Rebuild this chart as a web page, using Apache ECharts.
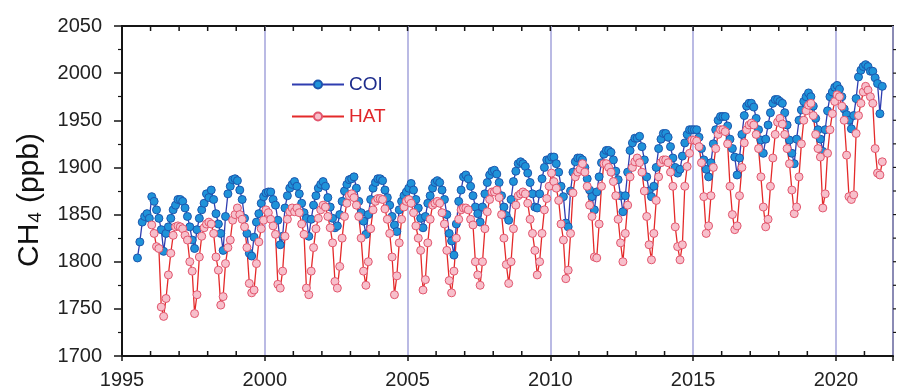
<!DOCTYPE html>
<html>
<head>
<meta charset="utf-8">
<script src="https://cdn.jsdelivr.net/npm/echarts@6/dist/echarts.min.js"></script>
<style>
  html, body { margin: 0; padding: 0; background: #fff; }
  #chart { width: 897px; height: 392px; }
  #err { position: absolute; left: 430px; top: 32px; font: 11px monospace; color: #c00; white-space: pre; }
</style>
</head>
<body>
<div id="chart"></div>
<div id="err"></div>
<script>
window.onerror = function (msg) { document.getElementById('err').textContent += msg + '\n'; };

// Monthly mean CH4 mole fractions (ppb), one row per calendar year.
const coiStart = [1995, 7];   // first month of the COI record (year, month)
const coiValues = [
  1804, 1821, 1842, 1848, 1851, 1846,                                   // 1995 Jul-Dec
  1869, 1864, 1855, 1846, 1834, 1811, 1830, 1837, 1846, 1855, 1860, 1866, // 1996
  1866, 1864, 1857, 1848, 1837, 1823, 1814, 1834, 1846, 1855, 1862, 1872, // 1997
  1868, 1876, 1866, 1851, 1840, 1830, 1812, 1848, 1872, 1880, 1887, 1888, // 1998
  1886, 1876, 1866, 1846, 1830, 1809, 1806, 1826, 1842, 1851, 1862, 1869, // 1999
  1873, 1874, 1874, 1866, 1860, 1844, 1818, 1827, 1857, 1870, 1878, 1882, // 2000
  1885, 1880, 1872, 1862, 1852, 1846, 1827, 1845, 1860, 1870, 1878, 1882, // 2001
  1885, 1880, 1868, 1858, 1846, 1836, 1838, 1850, 1864, 1875, 1882, 1887, // 2002
  1888, 1890, 1878, 1864, 1852, 1843, 1829, 1850, 1866, 1878, 1884, 1888, // 2003
  1888, 1886, 1876, 1868, 1860, 1848, 1839, 1832, 1855, 1864, 1870, 1874, // 2004
  1878, 1883, 1876, 1866, 1857, 1846, 1836, 1848, 1862, 1870, 1878, 1884, // 2005
  1886, 1884, 1876, 1866, 1850, 1830, 1822, 1807, 1840, 1864, 1876, 1890, // 2006
  1892, 1888, 1880, 1870, 1858, 1851, 1842, 1858, 1872, 1884, 1892, 1896, // 2007
  1897, 1893, 1884, 1870, 1858, 1849, 1844, 1866, 1885, 1896, 1904, 1906, // 2008
  1904, 1901, 1894, 1884, 1872, 1858, 1857, 1872, 1888, 1900, 1908, 1908, // 2009
  1911, 1911, 1904, 1895, 1880, 1869, 1841, 1837, 1875, 1895, 1906, 1910, // 2010
  1910, 1908, 1900, 1888, 1876, 1869, 1855, 1874, 1890, 1905, 1914, 1918, // 2011
  1918, 1916, 1908, 1896, 1887, 1870, 1853, 1870, 1895, 1918, 1926, 1931, // 2012
  1931, 1933, 1922, 1908, 1890, 1875, 1869, 1880, 1900, 1920, 1930, 1936, // 2013
  1936, 1932, 1922, 1910, 1900, 1894, 1898, 1912, 1926, 1935, 1940, 1940, // 2014
  1940, 1940, 1932, 1920, 1908, 1898, 1890, 1905, 1925, 1940, 1950, 1954, // 2015
  1954, 1954, 1944, 1930, 1920, 1911, 1892, 1910, 1935, 1955, 1965, 1968, // 2016
  1968, 1964, 1952, 1940, 1929, 1915, 1930, 1945, 1958, 1968, 1972, 1972, // 2017
  1970, 1968, 1958, 1945, 1929, 1915, 1904, 1930, 1950, 1961, 1970, 1975, // 2018
  1979, 1975, 1965, 1952, 1940, 1930, 1917, 1940, 1960, 1975, 1980, 1985, // 2019
  1987, 1983, 1975, 1962, 1956, 1950, 1941, 1955, 1973, 1996, 2003, 2007, // 2020
  2009, 2007, 2002, 2002, 1995, 1989, 1957, 1986                          // 2021 Jan-Aug
];

const hatStart = [1996, 1];   // first month of the HAT record
const hatValues = [
  1839, 1830, 1816, 1814, 1752, 1742, 1761, 1786, 1809, 1828, 1837, 1838, // 1996
  1837, 1835, 1828, 1823, 1800, 1790, 1745, 1765, 1805, 1827, 1836, 1840, // 1997
  1842, 1840, 1830, 1805, 1791, 1754, 1763, 1798, 1815, 1823, 1844, 1850, // 1998
  1857, 1850, 1845, 1837, 1815, 1777, 1767, 1770, 1798, 1821, 1835, 1844, // 1999
  1855, 1852, 1845, 1838, 1829, 1776, 1772, 1790, 1827, 1845, 1853, 1857, // 2000
  1853, 1857, 1852, 1840, 1829, 1772, 1765, 1790, 1815, 1835, 1846, 1855, // 2001
  1860, 1858, 1848, 1836, 1820, 1779, 1772, 1795, 1825, 1848, 1862, 1870, // 2002
  1872, 1868, 1860, 1848, 1825, 1790, 1775, 1800, 1835, 1855, 1864, 1867, // 2003
  1867, 1866, 1856, 1845, 1830, 1805, 1765, 1785, 1820, 1845, 1858, 1864, // 2004
  1866, 1862, 1852, 1838, 1825, 1812, 1770, 1781, 1820, 1845, 1860, 1862, // 2005
  1864, 1862, 1852, 1840, 1812, 1780, 1767, 1790, 1825, 1845, 1855, 1857, // 2006
  1857, 1855, 1845, 1839, 1800, 1786, 1775, 1800, 1835, 1853, 1866, 1874, // 2007
  1874, 1876, 1868, 1850, 1825, 1797, 1777, 1800, 1835, 1860, 1870, 1872, // 2008
  1874, 1872, 1862, 1845, 1830, 1812, 1786, 1800, 1830, 1855, 1867, 1880, // 2009
  1894, 1885, 1878, 1865, 1840, 1823, 1782, 1791, 1830, 1873, 1890, 1895, // 2010
  1898, 1904, 1895, 1880, 1860, 1848, 1805, 1804, 1840, 1880, 1904, 1904, // 2011
  1900, 1895, 1885, 1870, 1845, 1820, 1800, 1830, 1860, 1890, 1900, 1906, // 2012
  1910, 1905, 1895, 1875, 1848, 1818, 1802, 1830, 1865, 1890, 1905, 1908, // 2013
  1908, 1905, 1895, 1880, 1837, 1816, 1802, 1818, 1880, 1901, 1915, 1929, // 2014
  1929, 1928, 1922, 1905, 1869, 1830, 1838, 1870, 1900, 1920, 1935, 1940, // 2015
  1940, 1938, 1925, 1880, 1850, 1834, 1838, 1870, 1900, 1926, 1940, 1945, // 2016
  1947, 1945, 1935, 1920, 1890, 1858, 1837, 1845, 1880, 1910, 1935, 1948, // 2017
  1952, 1946, 1935, 1920, 1904, 1876, 1851, 1858, 1890, 1925, 1950, 1960, // 2018
  1966, 1968, 1955, 1935, 1920, 1911, 1857, 1872, 1915, 1940, 1957, 1970, // 2019
  1977, 1975, 1965, 1950, 1913, 1869, 1866, 1871, 1936, 1955, 1968, 1980, // 2020
  1986, 1982, 1975, 1968, 1920, 1894, 1892, 1906                          // 2021 Jan-Aug
];

const seriesNames = ['COI', 'HAT'];
const yearRange = [1995, 2022];
const ppbRange = [1700, 2050];
const yTitle = 'CH\u2084 (ppb)';

// Place each monthly value at the middle of its month, in decimal years.
function monthly(start, values) {
  return values.map((v, i) => [start[0] + (start[1] - 1 + i + 0.5) / 12, v]);
}

const FONT = "'Liberation Sans', Arial, 'DejaVu Sans', sans-serif";
const INK = '#151515';

const chart = echarts.init(document.getElementById('chart'), null, { renderer: 'canvas' });

chart.setOption({
  animation: false,
  backgroundColor: '#ffffff',
  textStyle: { fontFamily: FONT },
  grid: { left: 122, right: 4, top: 26, bottom: 36, show: true, borderColor: INK, borderWidth: 2, backgroundColor: 'transparent' },
  legend: {
    orient: 'vertical',
    left: 286,
    top: 70,
    itemWidth: 52,
    itemHeight: 10,
    itemGap: 13,
    textStyle: { fontSize: 19, fontFamily: FONT },
    data: [
      { name: seriesNames[0], textStyle: { color: '#1d2c8c' } },
      { name: seriesNames[1], textStyle: { color: '#e0262a' } }
    ]
  },
  xAxis: {
    type: 'value', position: 'bottom',
    min: yearRange[0], max: yearRange[1], interval: 5,
    axisLine: { onZero: false, lineStyle: { color: INK, width: 2 } },
    axisTick: { show: true, length: 5, lineStyle: { color: INK, width: 1.5 } },
    axisLabel: {
      fontSize: 20, color: '#222', margin: 14, fontFamily: FONT,
      formatter: v => (v % 5 === 0 ? String(v) : '')
    },
    splitLine: { show: true, lineStyle: { color: '#a9a9de', width: 1.6 } }
  },
  yAxis: {
    type: 'value', position: 'left',
    min: ppbRange[0], max: ppbRange[1], interval: 50,
    axisLine: { show: true, onZero: false, lineStyle: { color: INK, width: 2 } },
    axisTick: { show: true, length: 8, lineStyle: { color: INK, width: 1.5 } },
    minorTick: { show: true, splitNumber: 2, length: 4, lineStyle: { color: INK, width: 1.2 } },
    axisLabel: { fontSize: 20, color: '#222', margin: 20, fontFamily: FONT, formatter: v => String(v) },
    splitLine: { show: false },
    name: yTitle,
    nameLocation: 'middle',
    nameRotate: 90,
    nameGap: 77,
    nameTextStyle: { fontSize: 30, fontFamily: FONT, color: '#111', padding: [0, 18, 0, 0] }
  },
  series: [
    {
      name: seriesNames[0],
      type: 'line',
      data: monthly(coiStart, coiValues),
      symbol: 'circle',
      symbolSize: 8,
      lineStyle: { color: '#2f3db0', width: 1.3 },
      itemStyle: { color: '#1f93d9', borderColor: '#1d56ad', borderWidth: 1 }
    },
    {
      name: seriesNames[1],
      type: 'line',
      data: monthly(hatStart, hatValues),
      symbol: 'circle',
      symbolSize: 8,
      lineStyle: { color: '#e42a2a', width: 1.3 },
      itemStyle: { color: '#f7bfcb', borderColor: '#e2566e', borderWidth: 1 }
    }
  ]
});

// Small ticks on the frame: inward yearly ticks along top and bottom,
// outward 25-ppb ticks on the right, placed through the chart's scales.
(function drawFrameTicks() {
  const px = (x, y) => chart.convertToPixel({ gridIndex: 0 }, [x, y]);
  const lo = px(yearRange[0], ppbRange[0]);
  const hi = px(yearRange[1], ppbRange[1]);
  const els = [];
  const line = (x1, y1, x2, y2, w) => els.push({
    type: 'line', silent: true, z: 50,
    shape: { x1, y1, x2, y2 },
    style: { stroke: INK, lineWidth: w }
  });
  for (let yr = yearRange[0] + 1; yr < yearRange[1]; yr++) {
    const x = px(yr, ppbRange[0])[0];
    line(x, hi[1], x, hi[1] + 5, 1.5);
    if (yr % 5 !== 0) line(x, lo[1], x, lo[1] - 5, 1.5);
  }
  for (let v = ppbRange[0] + 25; v < ppbRange[1]; v += 25) {
    const y = px(yearRange[1], v)[1];
    line(hi[0], y, hi[0] + 3, y, 1.2);
  }
  chart.setOption({ graphic: { elements: els } });
})();
</script>
</body>
</html>
